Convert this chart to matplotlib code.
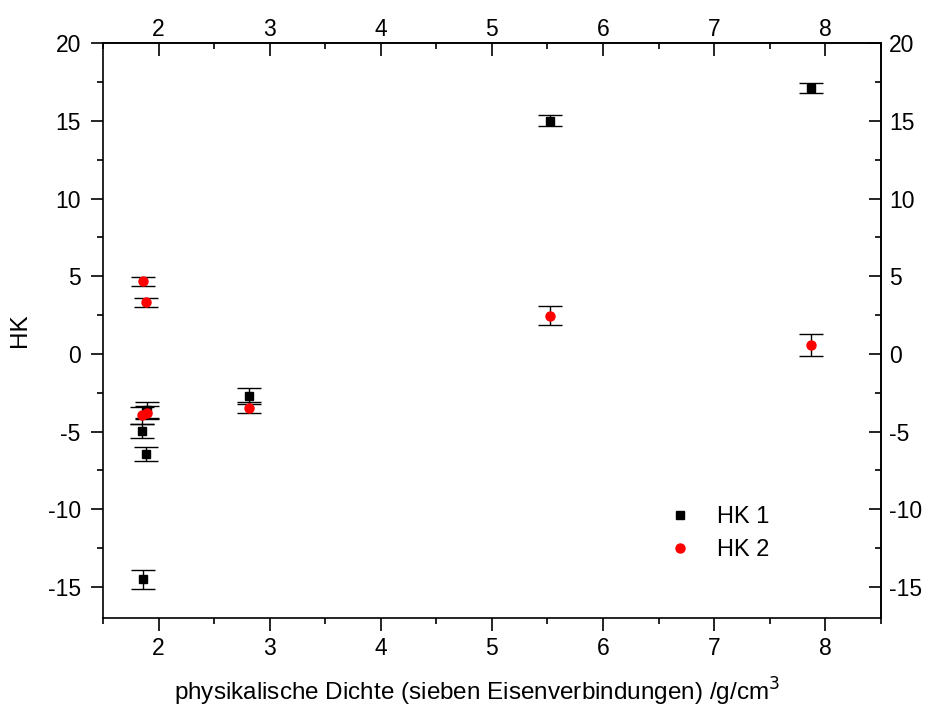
import matplotlib
matplotlib.use("Agg")
import matplotlib.pyplot as plt
from matplotlib.ticker import MultipleLocator

plt.rcParams['font.family'] = ['Liberation Sans', 'DejaVu Sans']
plt.rcParams['axes.unicode_minus'] = False

# HK 1 data
hk1_x = [1.86, 1.85, 1.89, 1.90, 2.81, 5.52, 7.87]
hk1_y = [-14.5, -4.94, -6.42, -3.6, -2.69, 15.02, 17.11]
hk1_err = [0.6, 0.45, 0.45, 0.5, 0.5, 0.35, 0.33]

# HK 2 data
hk2_x = [1.86, 1.89, 1.85, 1.90, 2.81, 5.52, 7.87]
hk2_y = [4.68, 3.33, -3.95, -3.78, -3.45, 2.47, 0.6]
hk2_err = [0.28, 0.3, 0.53, 0.4, 0.37, 0.6, 0.7]

x_ticks = [2, 3, 4, 5, 6, 7, 8]
y_ticks = [-15, -10, -5, 0, 5, 10, 15, 20]

FS = 16.5

fig = plt.figure(figsize=(9.32, 7.17), dpi=100)
ax = fig.add_axes([0.1105, 0.138, 0.8345, 0.8016])

ax.errorbar(hk1_x, hk1_y, yerr=hk1_err, fmt='s', color='black', ms=5.5,
            ecolor='black', elinewidth=1, capsize=8.6, capthick=1, label='HK 1', zorder=3)
ax.errorbar(hk2_x, hk2_y, yerr=hk2_err, fmt='o', color='red', ms=6.5,
            ecolor='black', elinewidth=1, capsize=8.6, capthick=1, label='HK 2', zorder=3)

ax.set_xlim(1.5, 8.5)
ax.set_ylim(-17, 20)
ax.set_xticks(x_ticks)
ax.set_yticks(y_ticks)
ax.xaxis.set_minor_locator(MultipleLocator(0.5))
ax.yaxis.set_minor_locator(MultipleLocator(2.5))
ax.tick_params(which='major', direction='out', length=9, width=1.2, labelsize=FS, pad=5)
ax.tick_params(axis='y', which='major', pad=7)
ax.tick_params(which='minor', direction='out', length=4.5, width=1.2)
for s in ax.spines.values():
    s.set_linewidth(1.2)

sec_x = ax.secondary_xaxis('top')
sec_x.set_xticks(x_ticks)
sec_x.xaxis.set_minor_locator(MultipleLocator(0.5))
sec_x.tick_params(which='major', direction='in', length=9, width=1.2, labelsize=FS, pad=2)
sec_x.tick_params(which='minor', direction='in', length=4.5, width=1.2)
sec_x.spines['top'].set_linewidth(1.2)

sec_y = ax.secondary_yaxis('right')
sec_y.set_yticks(y_ticks)
sec_y.yaxis.set_minor_locator(MultipleLocator(2.5))
sec_y.tick_params(which='major', direction='in', length=9, width=1.2, labelsize=FS, pad=6)
sec_y.tick_params(which='minor', direction='in', length=4.5, width=1.2)
sec_y.spines['right'].set_linewidth(1.2)

ax.set_xlabel('physikalische Dichte (sieben Eisenverbindungen) /g/cm$^3$', fontsize=17.5, labelpad=12)
ax.xaxis.set_label_coords(0.481, -0.1)
ax.xaxis.label.set_va('top')
ax.set_ylabel('HK', fontsize=17.5, labelpad=12)

handles, labels = ax.get_legend_handles_labels()
handles = [h[0] for h in handles]
ax.legend(handles, labels, loc='upper left', bbox_to_anchor=(0.7, 0.232), frameon=False,
          fontsize=17, handletextpad=1.03, labelspacing=0.47, handlelength=1.0)

fig.savefig('out.png', dpi=100)
